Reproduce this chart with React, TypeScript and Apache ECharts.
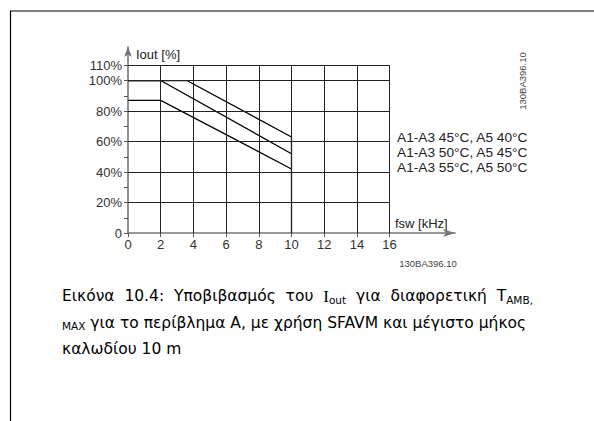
import React, { useEffect, useRef } from "react";
import * as echarts from "echarts";

const xTickValues = [0, 2, 4, 6, 8, 10, 12, 14, 16];
const yLabelValues = [0, 20, 40, 60, 80, 100, 110];
const yTickValues = [0, 10, 20, 30, 40, 50, 60, 70, 80, 90, 100, 110];
const gridX = [2, 4, 6, 8, 10, 12, 14, 16];
const gridY = [20, 40, 60, 80, 100, 110];

const seriesNames = [
  "A1-A3 45°C, A5 40°C",
  "A1-A3 50°C, A5 45°C",
  "A1-A3 55°C, A5 50°C",
];
const curve45: number[][] = [[0, 100], [3.6, 100], [10, 63], [10, 0]];
const curve50: number[][] = [[0, 100], [2, 100], [10, 52]];
const curve55: number[][] = [[0, 87], [2, 87], [10, 42]];

export default function App() {
  const ref = useRef<HTMLDivElement>(null);
  useEffect(() => {
    if (!ref.current) return;
    const chart = echarts.init(ref.current, undefined, { renderer: "svg" });
    const markData: any[] = [];
    gridX.forEach((x) => markData.push([{ coord: [x, 0] }, { coord: [x, 110] }]));
    gridY.forEach((y) => markData.push([{ coord: [0, y] }, { coord: [16, y] }]));
    const lineStyle = { color: "#000", width: 1.3 };
    const sansFont = "Liberation Sans";
    const capFont = "DejaVu Sans";
    const capSize = 15.5;
    const rich = {
      sub: { fontFamily: capFont, fontSize: 10.5, verticalAlign: "bottom", lineHeight: 14, color: "#000" },
      ser: { fontFamily: "Liberation Serif", fontSize: 17, lineHeight: 18, color: "#000" },
    };
    chart.setOption({
      animation: false,
      backgroundColor: "#fff",
      grid: { left: 128, right: 139, top: 47, bottom: 188, containLabel: false },
      xAxis: {
        type: "value",
        min: 0,
        max: 20,
        splitLine: { show: false },
        axisLine: {
          show: true,
          lineStyle: { color: "#777", width: 1.6 },
          symbol: ["none", "arrow"],
          symbolSize: [6, 12],
        },
        axisTick: { show: true, length: 4, customValues: xTickValues, lineStyle: { color: "#555" } },
        axisLabel: {
          customValues: xTickValues,
          color: "#333",
          fontFamily: sansFont,
          fontSize: 13,
          margin: 5,
        },
      },
      yAxis: {
        type: "value",
        min: 0,
        max: 122,
        splitLine: { show: false },
        axisLine: {
          show: true,
          lineStyle: { color: "#777", width: 1.6 },
          symbol: ["none", "arrow"],
          symbolSize: [6, 10],
        },
        axisTick: { show: true, length: 4, customValues: yTickValues, lineStyle: { color: "#555" } },
        axisLabel: {
          customValues: yLabelValues,
          color: "#333",
          fontFamily: sansFont,
          fontSize: 13,
          margin: 6,
          formatter: (v: number) => (v === 0 ? "0" : v + "%"),
        },
      },
      series: [
        {
          type: "line",
          name: "grid",
          data: [[0, 0]],
          symbol: "none",
          lineStyle: { width: 0 },
          silent: true,
          z: 1,
          markLine: {
            silent: true,
            symbol: ["none", "none"],
            label: { show: false },
            lineStyle: { type: "solid", color: "#222", width: 1 },
            data: markData,
            animation: false,
          },
        },
        { type: "line", name: seriesNames[0], data: curve45, symbol: "none", lineStyle, z: 3 },
        { type: "line", name: seriesNames[1], data: curve50, symbol: "none", lineStyle, z: 3 },
        { type: "line", name: seriesNames[2], data: curve55, symbol: "none", lineStyle, z: 3 },
      ],
      graphic: [
        { type: "line", shape: { x1: 10, y1: 11, x2: 594, y2: 11 }, style: { stroke: "#000", lineWidth: 1.2 } },
        { type: "line", shape: { x1: 10.5, y1: 11, x2: 10.5, y2: 421 }, style: { stroke: "#000", lineWidth: 1.2 } },
        { type: "text", x: 136, y: 54, style: { text: "Iout [%]", font: `13px ${sansFont}`, fill: "#222", verticalAlign: "middle" } },
        { type: "text", x: 395, y: 223, style: { text: "fsw [kHz]", font: `13px ${sansFont}`, fill: "#222", verticalAlign: "middle" } },
        ...seriesNames.map((n, i) => ({
          type: "text",
          x: 397,
          y: 137 + i * 15.3,
          style: { text: n, font: `13.7px ${sansFont}`, fill: "#222", verticalAlign: "middle" },
        })),
        {
          type: "text",
          x: 522,
          y: 81,
          rotation: Math.PI / 2,
          style: { text: "130BA396.10", font: `9.5px ${sansFont}`, fill: "#444", align: "center", verticalAlign: "middle" },
        },
        { type: "text", x: 428, y: 263, style: { text: "130BA396.10", font: `9.5px ${sansFont}`, fill: "#444", align: "center", verticalAlign: "middle" } },
        {
          type: "text",
          x: 62,
          y: 296,
          style: {
            text: "Εικόνα  10.4:  Υποβιβασμός  του  {ser|I}{sub|out}  για  διαφορετική  T{sub|AMB,}",
            font: `${capSize}px ${capFont}`,
            fill: "#000",
            verticalAlign: "middle",
            rich,
          },
        },
        {
          type: "text",
          x: 62,
          y: 323,
          style: {
            text: "{sub|MAX} για το περίβλημα A, με χρήση SFAVM και μέγιστο μήκος",
            font: `${capSize}px ${capFont}`,
            fill: "#000",
            verticalAlign: "middle",
            rich,
          },
        },
        {
          type: "text",
          x: 62,
          y: 349,
          style: { text: "καλωδίου 10 m", font: `${capSize}px ${capFont}`, fill: "#000", verticalAlign: "middle" },
        },
      ],
    });
    return () => chart.dispose();
  }, []);
  return (
    <div
      ref={ref}
      style={{ position: "fixed", left: 0, top: 0, width: 594, height: 421, background: "#fff" }}
    />
  );
}
